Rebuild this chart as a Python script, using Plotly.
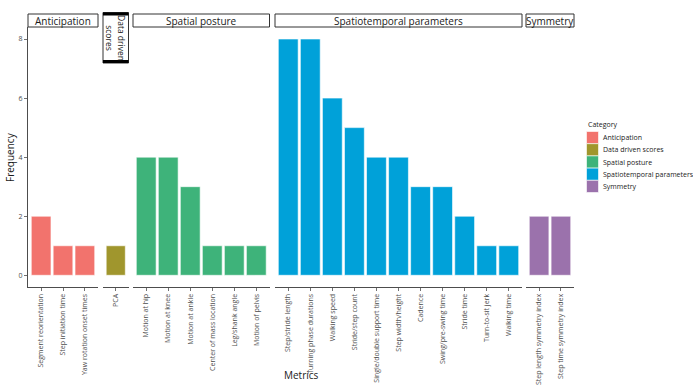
import plotly.graph_objects as go

W, H = 693, 390

facets = ["Anticipation", "Data driven scores", "Spatial posture",
          "Spatiotemporal parameters", "Symmetry"]
colors = ["#F2736D", "#A0962D", "#3EB37A", "#00A1D9", "#9B72AC"]

anticipation_metrics = ["Segment reorientation", "Step initiation time", "Yaw rotation onset times"]
anticipation_freq = [2, 1, 1]
dds_metrics = ["PCA"]
dds_freq = [1]
spatial_metrics = ["Motion at hip", "Motion at knee", "Motion at ankle",
                   "Center of mass location", "Leg/shank angle", "Motion of pelvis"]
spatial_freq = [4, 4, 3, 1, 1, 1]
st_metrics = ["Step/stride length", "Turning phase durations", "Walking speed",
              "Stride/step count", "Single/double support time", "Step width/height",
              "Cadence", "Swing/pre-swing time", "Stride time", "Turn-to-sit jerk",
              "Walking time"]
st_freq = [8, 8, 6, 5, 4, 4, 3, 3, 2, 1, 1]
sym_metrics = ["Step length symmetry index", "Step time symmetry index"]
sym_freq = [2, 2]

y_ticks = [0, 2, 4, 6, 8]

data = [
    (anticipation_metrics, anticipation_freq),
    (dds_metrics, dds_freq),
    (spatial_metrics, spatial_freq),
    (st_metrics, st_freq),
    (sym_metrics, sym_freq),
]

# panel pixel extents (left, right)
panels_px = [(28, 98), (103, 128.5), (133, 269.5), (275, 522), (526, 574)]
panel_top, panel_bot = 27.2, 287.1

def px_x(v):
    return v / W

def px_y(v):
    return 1 - v / H

fig = go.Figure()
AX = "#4d4d4d"
FONT = "Open Sans"

for i, ((cats, vals), name, col) in enumerate(zip(data, facets, colors)):
    xa = "x" if i == 0 else f"x{i+1}"
    fig.add_trace(go.Bar(
        x=cats, y=vals, name=name, xaxis=xa, yaxis="y",
        marker=dict(color=col, line=dict(color="white", width=0.6)),
        width=0.9, showlegend=False,
    ))
    l, r = panels_px[i]
    key = "xaxis" if i == 0 else f"xaxis{i+1}"
    fig.layout[key] = dict(
        domain=[px_x(l), px_x(r)], anchor="y", type="category",
        categoryorder="array", categoryarray=cats,
        range=[-0.6, len(cats) - 0.4], automargin=False,
        showline=True, linecolor=AX, linewidth=1,
        ticks="outside", ticklen=3, tickcolor=AX, tickwidth=0.8,
        tickangle=-90, tickfont=dict(size=7, color=AX, family=FONT),
        showgrid=False, zeroline=False, fixedrange=True,
    )

fig.update_layout(
    template="none",
    yaxis=dict(
        domain=[px_y(panel_bot), px_y(panel_top)], anchor="x",
        range=[-0.4, 8.4], tickvals=y_ticks, automargin=False,
        showline=True, linecolor=AX, linewidth=1,
        ticks="outside", ticklen=3, tickcolor=AX, tickwidth=0.8,
        tickfont=dict(size=7, color=AX, family=FONT),
        showgrid=False, zeroline=False,
    ),
    width=W, height=H, margin=dict(l=0, r=0, t=0, b=0, autoexpand=False),
    plot_bgcolor="white", paper_bgcolor="white",
    font=dict(family=FONT),
    showlegend=False,
)

shapes = []
annotations = []
strip_top, strip_bot = 14, 27
for i, name in enumerate(facets):
    l, r = panels_px[i]
    if name == "Data driven scores":
        t, b = 12.5, 63
        shapes.append(dict(type="rect", xref="paper", yref="paper",
                           x0=px_x(l), x1=px_x(r), y0=px_y(b), y1=px_y(t),
                           line=dict(color="#333333", width=1), fillcolor="white"))
        shapes.append(dict(type="rect", xref="paper", yref="paper",
                           x0=px_x(l), x1=px_x(r), y0=px_y(t + 3), y1=px_y(t),
                           line=dict(width=0), fillcolor="black"))
        shapes.append(dict(type="rect", xref="paper", yref="paper",
                           x0=px_x(l), x1=px_x(r), y0=px_y(b), y1=px_y(b - 3),
                           line=dict(width=0), fillcolor="black"))
        annotations.append(dict(text="Data driven<br>scores", xref="paper", yref="paper",
                                x=px_x((l + r) / 2), y=px_y((t + b) / 2),
                                xanchor="center", yanchor="middle",
                                showarrow=False, textangle=90,
                                font=dict(size=8.5, color="#1a1a1a", family=FONT)))
    else:
        shapes.append(dict(type="rect", xref="paper", yref="paper",
                           x0=px_x(l), x1=px_x(r), y0=px_y(strip_bot), y1=px_y(strip_top),
                           line=dict(color="#333333", width=1), fillcolor="white"))
        annotations.append(dict(text=name, xref="paper", yref="paper",
                                x=px_x((l + r) / 2), y=px_y((strip_top + strip_bot) / 2),
                                xanchor="center", yanchor="middle",
                                showarrow=False,
                                font=dict(size=10, color="#1a1a1a", family=FONT)))

annotations.append(dict(text="Frequency", xref="paper", yref="paper",
                        x=px_x(10), y=px_y(157), showarrow=False, textangle=-90,
                        xanchor="center", yanchor="middle",
                        font=dict(size=10, color="#1a1a1a", family=FONT)))
annotations.append(dict(text="Metrics", xref="paper", yref="paper",
                        x=px_x(301), y=px_y(375), showarrow=False,
                        xanchor="center", yanchor="middle",
                        font=dict(size=10, color="#1a1a1a", family=FONT)))

# legend (drawn manually to match ggplot guide)
annotations.append(dict(text="Category", xref="paper", yref="paper",
                        x=px_x(586), y=px_y(125), showarrow=False,
                        xanchor="left", yanchor="middle",
                        font=dict(size=7, color="#1a1a1a", family=FONT)))
key_top = 131.5
key_h = 12.2
for j, (name, col) in enumerate(zip(facets, colors)):
    t = key_top + j * key_h
    shapes.append(dict(type="rect", xref="paper", yref="paper",
                       x0=px_x(586.5), x1=px_x(598.5), y0=px_y(t + key_h), y1=px_y(t),
                       line=dict(color="white", width=0.6), fillcolor=col))
    annotations.append(dict(text=name, xref="paper", yref="paper",
                            x=px_x(600.5), y=px_y(t + key_h / 2), showarrow=False,
                            xanchor="left", yanchor="middle",
                            font=dict(size=7, color="#1a1a1a", family=FONT)))

fig.update_layout(shapes=shapes, annotations=annotations)

fig.write_html(
    "out.html",
    config={"displayModeBar": False, "staticPlot": True},
    post_script="document.body.style.margin='0px';document.body.style.overflow='hidden';",
)
